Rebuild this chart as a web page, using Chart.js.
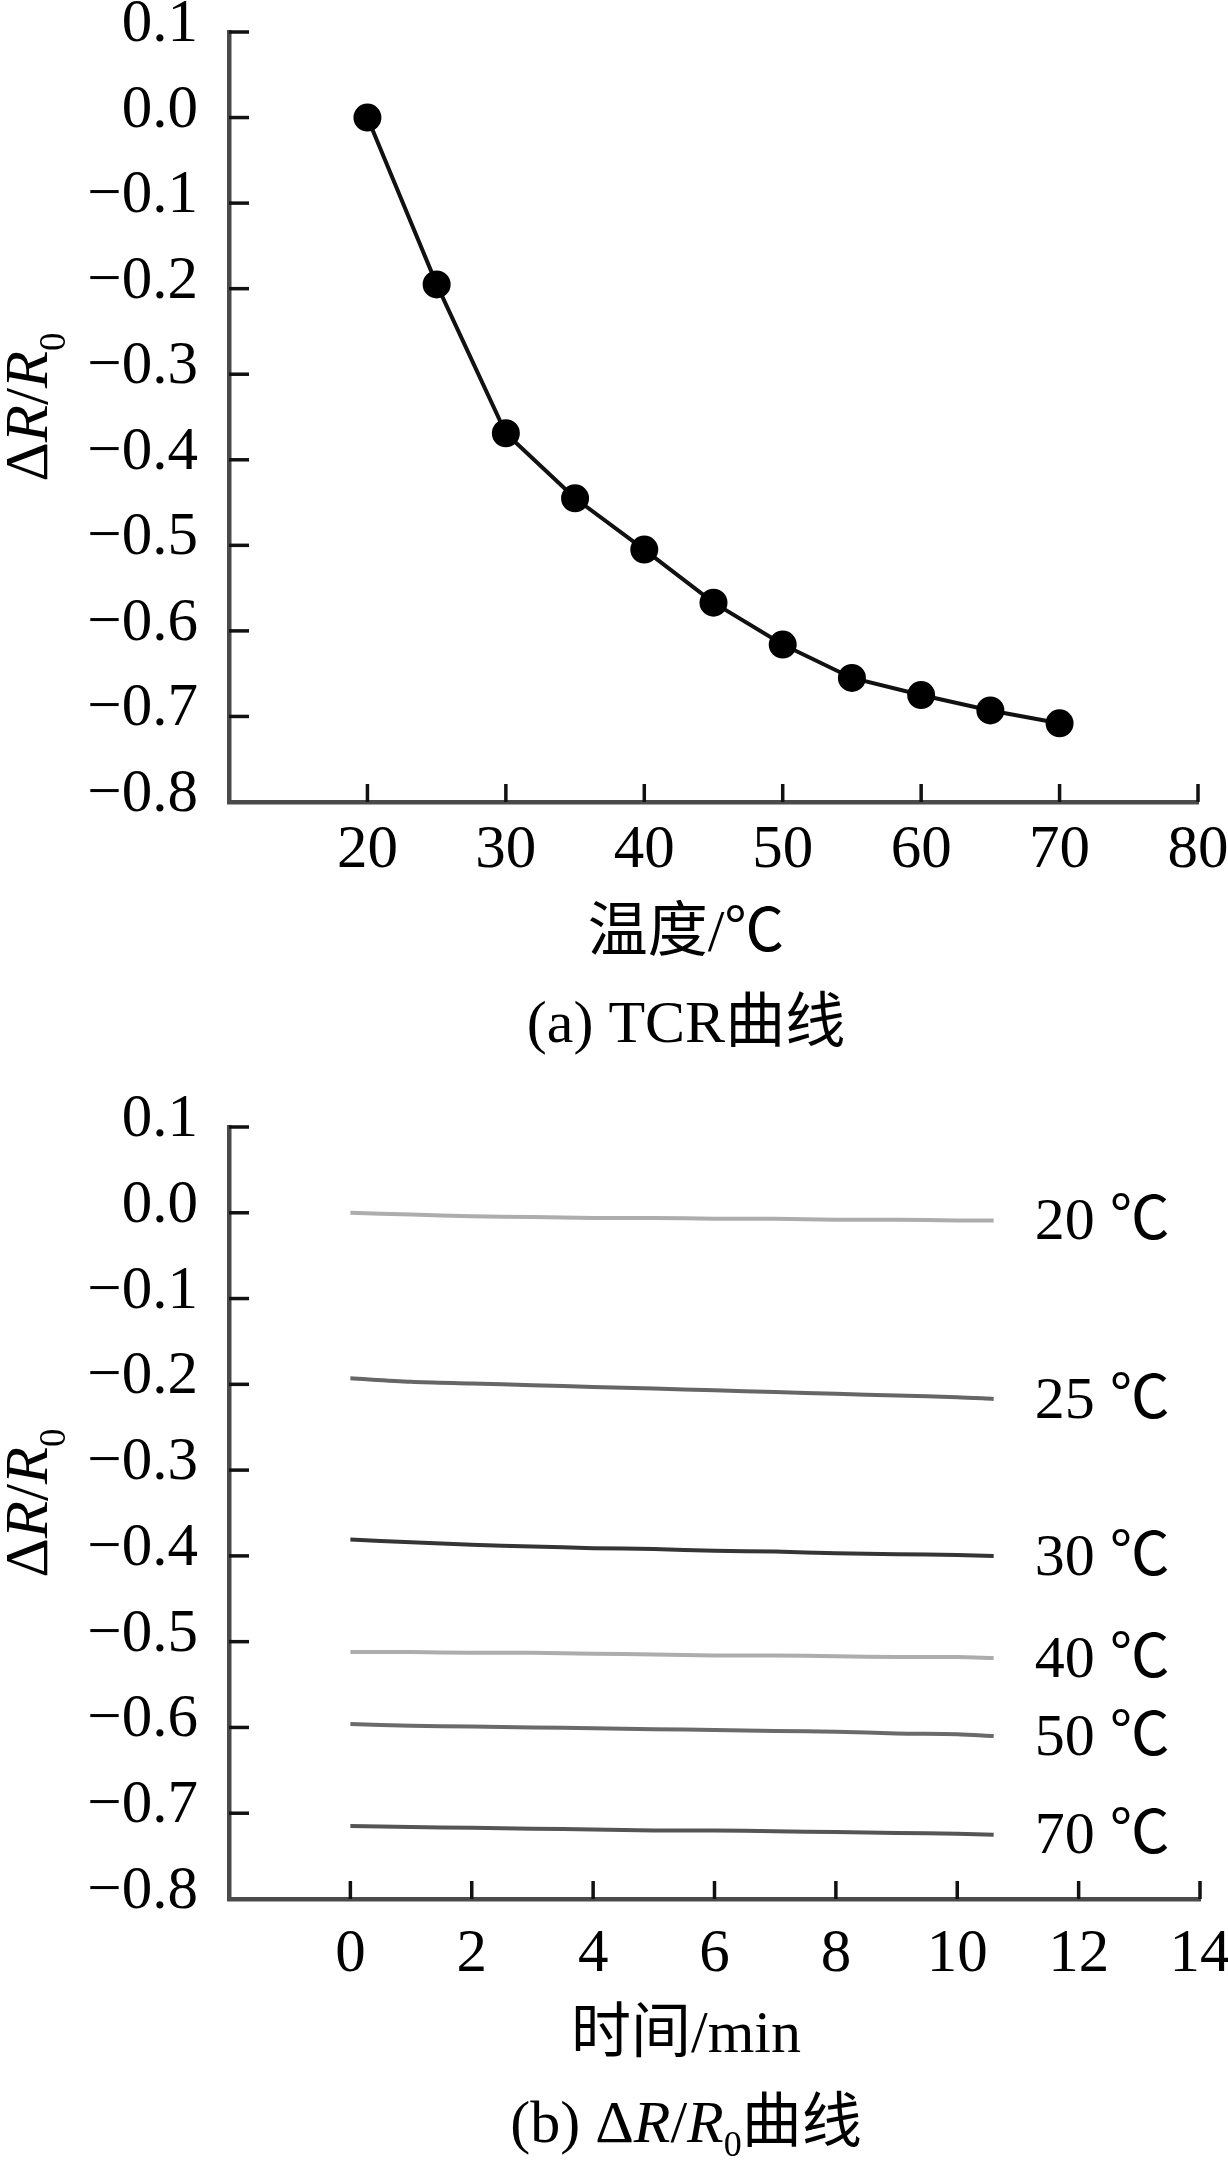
<!DOCTYPE html>
<html>
<head>
<meta charset="utf-8">
<script src="https://cdn.jsdelivr.net/npm/chart.js@4.4.1/dist/chart.umd.min.js"></script>
<style>
  body { margin: 0; background: #fff; }
  .box { position: absolute; left: 0; width: 1228px; }
</style>
</head>
<body>
<div class="box" style="top:0;height:1080px"><canvas id="tcrChart"></canvas></div>
<div class="box" style="top:1080px;height:1091px"><canvas id="driftChart"></canvas></div>
<script>
// (a) TCR curve
var tempC = [20, 25, 30, 35, 40, 45, 50, 55, 60, 65, 70];
var tcrValues = [0.0, -0.195, -0.369, -0.445, -0.505, -0.567, -0.616, -0.655, -0.675, -0.693, -0.708];

// (b) dR/R0 vs time at several temperatures
var timeMin = [0, 1, 2, 3, 4, 5, 6, 7, 8, 9, 10, 10.6];
var drift20 = [0.000, -0.002, -0.004, -0.005, -0.006, -0.006, -0.007, -0.007, -0.008, -0.008, -0.009, -0.009];
var drift25 = [-0.193, -0.197, -0.199, -0.201, -0.203, -0.205, -0.207, -0.209, -0.211, -0.213, -0.215, -0.217];
var drift30 = [-0.381, -0.384, -0.387, -0.389, -0.391, -0.392, -0.394, -0.395, -0.397, -0.398, -0.399, -0.400];
var drift40 = [-0.512, -0.512, -0.513, -0.513, -0.514, -0.515, -0.516, -0.516, -0.517, -0.518, -0.518, -0.519];
var drift50 = [-0.596, -0.598, -0.599, -0.600, -0.601, -0.602, -0.603, -0.604, -0.605, -0.607, -0.608, -0.610];
var drift70 = [-0.715, -0.716, -0.717, -0.718, -0.719, -0.720, -0.720, -0.721, -0.722, -0.723, -0.724, -0.725];
var driftLabels = ['20 ℃', '25 ℃', '30 ℃', '40 ℃', '50 ℃', '70 ℃'];
var driftColors = ['#adadad', '#666666', '#353535', '#adadad', '#6a6a6a', '#555555'];

var FAM = "'Liberation Serif', 'Noto Sans CJK SC', serif";

function fmtY(v) {
  var s = Math.abs(v).toFixed(1);
  return (v < -1e-9 ? '\u2212' : '') + s;
}

// mixed text (italic R, subscript 0), centred on x, baseline y
function drawRich(ctx, parts, x, y, size, subSize, subShift) {
  var total = 0, widths = [];
  parts.forEach(function (p) {
    ctx.font = (p.i ? 'italic ' : '') + (p.sub ? subSize : size) + 'px ' + FAM;
    var w = ctx.measureText(p.t).width;
    widths.push(w); total += w;
  });
  var cx = x - total / 2;
  ctx.textAlign = 'left';
  ctx.textBaseline = 'alphabetic';
  parts.forEach(function (p, k) {
    ctx.font = (p.i ? 'italic ' : '') + (p.sub ? subSize : size) + 'px ' + FAM;
    ctx.fillText(p.t, cx, y + (p.sub ? subShift : 0));
    cx += widths[k];
  });
}

var yTitleParts = [{t: 'Δ'}, {t: 'R', i: true}, {t: '/'}, {t: 'R', i: true}, {t: '0', sub: true}];

// inward tick marks + titles
var decorPlugin = {
  id: 'decor',
  afterDraw: function (chart, args, o) {
    var ctx = chart.ctx, x = chart.scales.x, y = chart.scales.y, a = chart.chartArea;
    ctx.save();
    ctx.strokeStyle = '#111';
    ctx.lineWidth = 3.5;
    x.ticks.forEach(function (t, i) {
      if (t.value === x.min) return;
      var px = x.getPixelForTick(i);
      ctx.beginPath(); ctx.moveTo(px, a.bottom); ctx.lineTo(px, a.bottom - 18); ctx.stroke();
    });
    y.ticks.forEach(function (t, i) {
      if (t.value === y.min) return;
      var py = y.getPixelForTick(i);
      ctx.beginPath(); ctx.moveTo(a.left, py); ctx.lineTo(a.left + 20, py); ctx.stroke();
    });
    ctx.fillStyle = '#000';
    // y title, rotated
    ctx.save();
    ctx.translate(47, (a.top + a.bottom) / 2 - 10);
    ctx.rotate(-Math.PI / 2);
    drawRich(ctx, yTitleParts, 0, 0, 61, 37, 18);
    ctx.restore();
    // x title
    drawRich(ctx, [{t: o.xTitle}], 686, o.xTitleY, 60, 36, 0);
    // caption
    drawRich(ctx, o.caption, 686, o.captionY, 60, 36, 14);
    ctx.restore();
  }
};

// text labels at the end of each drift line
var endLabelPlugin = {
  id: 'endLabels',
  afterDatasetsDraw: function (chart) {
    var ctx = chart.ctx;
    ctx.save();
    ctx.fillStyle = '#000';
    ctx.font = '60px ' + FAM;
    ctx.textAlign = 'left';
    ctx.textBaseline = 'middle';
    chart.data.datasets.forEach(function (ds, i) {
      var pts = chart.getDatasetMeta(i).data;
      var last = pts[pts.length - 1];
      ctx.fillText(driftLabels[i], last.x + 41, last.y + 3);
    });
    ctx.restore();
  }
};

function baseScales(xMin, xMax, xStep, xHeight, xPad) {
  return {
    x: {
      type: 'linear', min: xMin, max: xMax,
      grid: {drawOnChartArea: false, drawTicks: false},
      border: {display: true, color: '#4a4a4a', width: 4.5},
      ticks: {
        stepSize: xStep, color: '#000', padding: xPad,
        font: {family: FAM, size: 61},
        callback: function (v) { return v === xMin ? '' : v; }
      },
      afterFit: function (s) {
        s.height = xHeight;
        s.paddingLeft = 0; s.paddingRight = 0;
      }
    },
    y: {
      type: 'linear', min: -0.8, max: 0.1,
      grid: {drawOnChartArea: false, drawTicks: false},
      border: {display: true, color: '#4a4a4a', width: 4.5},
      ticks: {
        stepSize: 0.1, color: '#000', padding: 31, labelOffset: -7,
        font: {family: FAM, size: 61},
        callback: fmtY
      },
      afterFit: function (s) {
        s.width = 229;
        s.paddingTop = 0; s.paddingBottom = 0;
      }
    }
  };
}

new Chart(document.getElementById('tcrChart'), {
  type: 'line',
  data: {
    datasets: [{
      data: tempC.map(function (t, i) { return {x: t, y: tcrValues[i]}; }),
      borderColor: '#111',
      borderWidth: 4,
      pointRadius: 12,
      pointBackgroundColor: '#000',
      pointBorderColor: '#000',
      tension: 0
    }]
  },
  options: {
    responsive: true,
    maintainAspectRatio: false,
    animation: false,
    layout: {padding: {top: 32, right: 30, left: 0, bottom: 0}},
    plugins: {
      legend: {display: false},
      tooltip: {enabled: false},
      decor: {
        xTitle: '温度/℃', xTitleY: 951,
        caption: [{t: '(a) TCR曲线'}], captionY: 1042
      }
    },
    scales: baseScales(10, 80, 10, 278, 12)
  },
  plugins: [decorPlugin]
});

var driftSeries = [drift20, drift25, drift30, drift40, drift50, drift70];

new Chart(document.getElementById('driftChart'), {
  type: 'line',
  data: {
    datasets: driftSeries.map(function (vals, k) {
      return {
        data: timeMin.map(function (t, i) { return {x: t, y: vals[i]}; }),
        borderColor: driftColors[k],
        borderWidth: 4,
        pointRadius: 0,
        tension: 0.3
      };
    })
  },
  options: {
    responsive: true,
    maintainAspectRatio: false,
    animation: false,
    layout: {padding: {top: 47, right: 28, left: 0, bottom: 0}},
    plugins: {
      legend: {display: false},
      tooltip: {enabled: false},
      decor: {
        xTitle: '时间/min', xTitleY: 972,
        caption: [{t: '(b) Δ'}, {t: 'R', i: true}, {t: '/'}, {t: 'R', i: true}, {t: '0', sub: true}, {t: '曲线'}],
        captionY: 1062
      }
    },
    scales: baseScales(-2, 14, 2, 272, 19)
  },
  plugins: [decorPlugin, endLabelPlugin]
});
</script>
</body>
</html>
